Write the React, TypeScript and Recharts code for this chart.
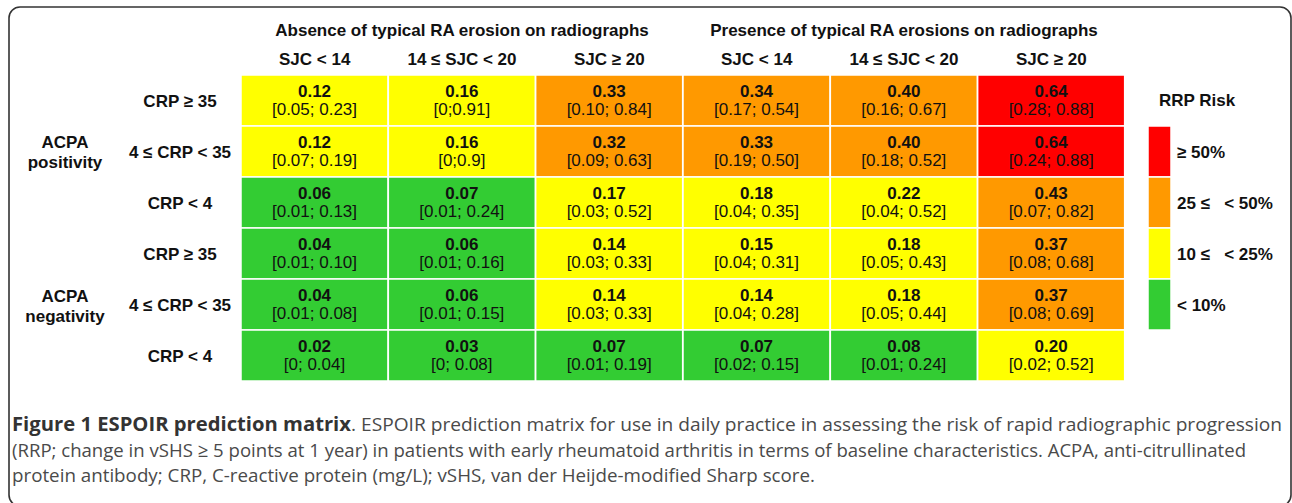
import { Bar, BarChart, Cell, LabelList, XAxis, YAxis } from "recharts";

const columnLabels = ["SJC < 14", "14 ≤ SJC < 20", "SJC ≥ 20", "SJC < 14", "14 ≤ SJC < 20", "SJC ≥ 20"];
const columnGroups = ["Absence of typical RA erosion on radiographs", "Presence of typical RA erosions on radiographs"];
const rowLabels = ["CRP ≥ 35", "4 ≤ CRP < 35", "CRP < 4", "CRP ≥ 35", "4 ≤ CRP < 35", "CRP < 4"];
const rowGroups = [
  ["ACPA", "positivity"],
  ["ACPA", "negativity"]
];

const riskRows = [
  [0.12, 0.16, 0.33, 0.34, 0.4, 0.64],
  [0.12, 0.16, 0.32, 0.33, 0.4, 0.64],
  [0.06, 0.07, 0.17, 0.18, 0.22, 0.43],
  [0.04, 0.06, 0.14, 0.15, 0.18, 0.37],
  [0.04, 0.06, 0.14, 0.14, 0.18, 0.37],
  [0.02, 0.03, 0.07, 0.07, 0.08, 0.2]
];

const ciRows = [
  ["[0.05; 0.23]", "[0;0.91]", "[0.10; 0.84]", "[0.17; 0.54]", "[0.16; 0.67]", "[0.28; 0.88]"],
  ["[0.07; 0.19]", "[0;0.9]", "[0.09; 0.63]", "[0.19; 0.50]", "[0.18; 0.52]", "[0.24; 0.88]"],
  ["[0.01; 0.13]", "[0.01; 0.24]", "[0.03; 0.52]", "[0.04; 0.35]", "[0.04; 0.52]", "[0.07; 0.82]"],
  ["[0.01; 0.10]", "[0.01; 0.16]", "[0.03; 0.33]", "[0.04; 0.31]", "[0.05; 0.43]", "[0.08; 0.68]"],
  ["[0.01; 0.08]", "[0.01; 0.15]", "[0.03; 0.33]", "[0.04; 0.28]", "[0.05; 0.44]", "[0.08; 0.69]"],
  ["[0; 0.04]", "[0; 0.08]", "[0.01; 0.19]", "[0.02; 0.15]", "[0.01; 0.24]", "[0.02; 0.52]"]
];

const legendLabels = ["≥ 50%", "25 ≤   < 50%", "10 ≤   < 25%", "< 10%"];
const legendColors = ["#ff0000", "#ff9900", "#ffff00", "#33cc33"];

const FONT = '"Liberation Sans", Arial, sans-serif';
const CAPTION_FONT = '"Open Sans", sans-serif';

function riskColor(v: number) {
  if (v >= 0.5) return legendColors[0];
  if (v >= 0.25) return legendColors[1];
  if (v >= 0.1) return legendColors[2];
  return legendColors[3];
}

// one unit per row, stacked, so every cell is the same height
const chartData = columnLabels.map((label, c) => {
  const d: Record<string, number | string> = { idx: c, label };
  rowLabels.forEach((_, r) => {
    d[`r${r}`] = 1;
  });
  return d;
});

function CellLabel(props: any) {
  const { x, y, width, height, index, row } = props;
  const cx = Number(x) + Number(width) / 2;
  const cy = Number(y) + Number(height) / 2;
  return (
    <g fontFamily={FONT} fill="#111" textAnchor="middle">
      <text x={cx} y={cy - 3.5} fontSize={17} fontWeight="bold">
        {riskRows[row][index].toFixed(2)}
      </text>
      <text x={cx} y={cy + 14.5} fontSize={17}>
        {ciRows[row][index]}
      </text>
    </g>
  );
}

function ColumnTick({ x, y, payload }: any) {
  return (
    <text x={x} y={y - 10} textAnchor="middle" fontFamily={FONT} fontSize={17} fontWeight="bold" fill="#111">
      {columnLabels[payload.value]}
    </text>
  );
}

function RowTick({ x, y, payload }: any) {
  return (
    <text x={x - 61} y={y + 6} textAnchor="middle" fontFamily={FONT} fontSize={17} fontWeight="bold" fill="#111">
      {rowLabels[Math.floor(payload.value)]}
    </text>
  );
}

export default function App() {
  return (
    <div style={{ position: "absolute", left: 0, top: 0, width: 1292, height: 503, background: "#fff", overflow: "hidden" }}>
      <svg width={1292} height={503} style={{ position: "absolute", left: 0, top: 0 }}>
        <rect x={9} y={7} width={1282} height={499} rx={11} fill="none" stroke="#333" strokeWidth={1.6} />
        {columnGroups.map((g, i) => (
          <text key={g} x={i === 0 ? 462 : 904} y={36} textAnchor="middle" fontFamily={FONT} fontSize={17} fontWeight="bold" fill="#111">
            {g}
          </text>
        ))}
        {rowGroups.map((lines, i) => (
          <text key={i} x={65} y={i === 0 ? 148 : 302} textAnchor="middle" fontFamily={FONT} fontSize={17} fontWeight="bold" fill="#111">
            <tspan x={65}>{lines[0]}</tspan>
            <tspan x={65} dy={20}>{lines[1]}</tspan>
          </text>
        ))}
        <text x={1159} y={106} fontFamily={FONT} fontSize={17} fontWeight="bold" fill="#111">
          RRP Risk
        </text>
        {legendLabels.map((label, i) => (
          <g key={label}>
            <rect x={1148} y={126 + i * 51} width={23} height={51} fill={legendColors[i]} stroke="#fff" strokeWidth={1.5} />
            <text x={1177} y={126 + i * 51 + 32} fontFamily={FONT} fontSize={17} fontWeight="bold" fill="#111" style={{ whiteSpace: "pre" }}>
              {label}
            </text>
          </g>
        ))}
        <g fontFamily={CAPTION_FONT} fontSize={19}>
          <text y={431}>
            <tspan x={12} fontWeight="bold" fill="#333" textLength={339} lengthAdjust="spacingAndGlyphs">
              Figure 1 ESPOIR prediction matrix
            </tspan>
            <tspan x={351} fill="#4a4a4a" textLength={931} lengthAdjust="spacingAndGlyphs">
              . ESPOIR prediction matrix for use in daily practice in assessing the risk of rapid radiographic progression
            </tspan>
          </text>
          <text x={12} y={457} fill="#4a4a4a" textLength={1234} lengthAdjust="spacingAndGlyphs">
            (RRP; change in vSHS ≥ 5 points at 1 year) in patients with early rheumatoid arthritis in terms of baseline characteristics. ACPA, anti-citrullinated
          </text>
          <text x={12} y={482} fill="#4a4a4a" textLength={803} lengthAdjust="spacingAndGlyphs">
            protein antibody; CRP, C-reactive protein (mg/L); vSHS, van der Heijde-modified Sharp score.
          </text>
        </g>
      </svg>
      <div style={{ position: "absolute", left: 0, top: 0 }}>
        <BarChart
          width={1292}
          height={503}
          data={chartData}
          margin={{ top: 45, right: 167, bottom: 122, left: 0 }}
          barCategoryGap={0}
          barGap={0}
        >
          <XAxis dataKey="idx" orientation="top" height={30} axisLine={false} tickLine={false} tickSize={0} tickMargin={0} interval={0} tick={<ColumnTick />} />
          <YAxis
            type="number"
            domain={[0, rowLabels.length]}
            reversed
            width={241}
            ticks={rowLabels.map((_, i) => i + 0.5)}
            interval={0}
            axisLine={false}
            tickLine={false}
            tickSize={0}
            tickMargin={0}
            tick={<RowTick />}
          />
          {rowLabels.map((_, r) => (
            <Bar key={r} dataKey={`r${r}`} stackId="grid" isAnimationActive={false} stroke="#fff" strokeWidth={1.5}>
              {columnLabels.map((_, c) => (
                <Cell key={c} fill={riskColor(riskRows[r][c])} />
              ))}
              <LabelList dataKey={`r${r}`} content={(p: any) => <CellLabel {...p} row={r} />} />
            </Bar>
          ))}
        </BarChart>
      </div>
    </div>
  );
}
